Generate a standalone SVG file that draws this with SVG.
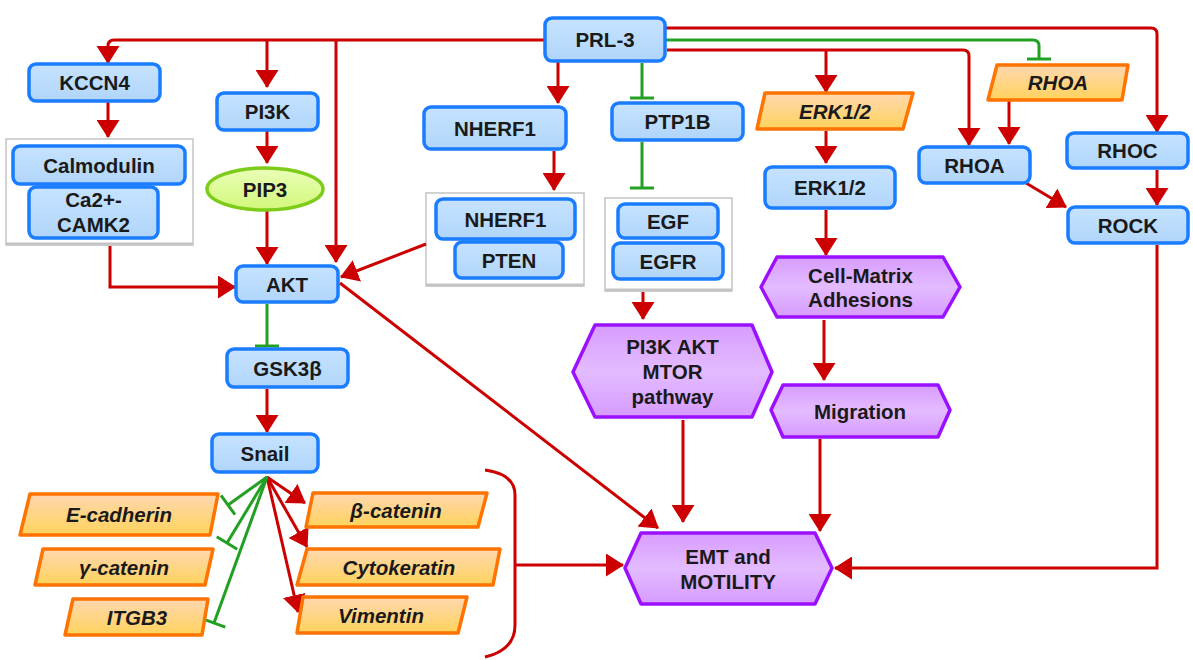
<svg xmlns="http://www.w3.org/2000/svg" width="1193" height="660" viewBox="0 0 1193 660">
<defs>
<linearGradient id="gb" x1="0" y1="0" x2="0" y2="1"><stop offset="0" stop-color="#c6e3ff"/><stop offset="1" stop-color="#b0d5fa"/></linearGradient>
<linearGradient id="go" x1="0" y1="0" x2="0" y2="1"><stop offset="0" stop-color="#ffd7b0"/><stop offset="1" stop-color="#ffd35c"/></linearGradient>
<linearGradient id="gp" x1="0" y1="0" x2="0" y2="1"><stop offset="0" stop-color="#d89cff"/><stop offset="0.5" stop-color="#e3bbff"/><stop offset="1" stop-color="#d69bff"/></linearGradient>
<linearGradient id="gg" x1="0" y1="0" x2="0" y2="1"><stop offset="0" stop-color="#eaffb8"/><stop offset="1" stop-color="#d2f77a"/></linearGradient>
<marker id="ah" markerUnits="userSpaceOnUse" viewBox="0 0 18 23" refX="17" refY="11.5" markerWidth="18" markerHeight="23" orient="auto"><path d="M0,0 L18,11.5 L0,23 z" fill="#cc0000"/></marker>
<marker id="bar" markerUnits="userSpaceOnUse" viewBox="-2 -1 4 26" refX="0" refY="12" markerWidth="4" markerHeight="26" orient="auto"><path d="M0,0 L0,24" stroke="#22a022" stroke-width="3"/></marker>
<style>
.b{fill:url(#gb);stroke:#1a7cff;stroke-width:3.5}
.o{fill:url(#go);stroke:#ff7300;stroke-width:3.5;stroke-linejoin:round}
.p{fill:url(#gp);stroke:#9b10ff;stroke-width:3.5;stroke-linejoin:round}
.c{fill:#fff;stroke:#c4c4c4;stroke-width:1.5}
.cs{stroke:#c4c4c4;stroke-width:3}
.t{font-family:"Liberation Sans",Arial,sans-serif;font-weight:bold;font-size:20.5px;fill:#1a1a1a;text-anchor:middle}
.i{font-style:italic}
.r{stroke:#cc0000;stroke-width:3;fill:none;marker-end:url(#ah)}
.rl{stroke:#cc0000;stroke-width:3;fill:none}
.g{stroke:#22a022;stroke-width:3;fill:none;marker-end:url(#bar)}
</style>
</defs>
<rect width="1193" height="660" fill="#fff"/>

<g id="containers">
<g id="calmodulin-complex"><rect class="c" x="6" y="139" width="187" height="106"/><line class="cs" x1="6" y1="244" x2="193" y2="244"/></g>
<g id="nherf1-pten-complex"><rect class="c" x="426" y="193" width="158" height="93"/><line class="cs" x1="426" y1="285" x2="584" y2="285"/></g>
<g id="egf-egfr-complex"><rect class="c" x="605" y="198" width="127" height="93"/><line class="cs" x1="605" y1="290" x2="732" y2="290"/></g>
</g>

<g id="connectors">
<path class="rl" d="M545,40 H114 Q108,40 108,46 V50"/>
<path class="r" d="M108,48 V63"/>
<path class="r" d="M267,40 V87"/>
<path class="r" d="M336,40 V262"/>
<path class="r" d="M665,28 H1151 Q1157,28 1157,34 V132"/>
<path class="g" d="M665,40 H1033 Q1039,40 1039,46 V59"/>
<path class="r" d="M667,50 H963 Q969,50 969,56 V145"/>
<path class="r" d="M826,50 V92"/>
<path class="r" d="M558,62 V103"/>
<path class="g" d="M642,63 V98"/>
<path class="r" d="M108,102 V137"/>
<path class="r" d="M267,131 V163"/>
<path class="r" d="M267,211 V264"/>
<path class="r" d="M110,246 V287 H235"/>
<path class="r" d="M426,244 L341,277"/>
<path class="g" d="M267,304 V346"/>
<path class="r" d="M267,389 V432"/>
<path class="r" d="M554,151 V190"/>
<path class="g" d="M642,142 V188"/>
<path class="r" d="M643,292 V319"/>
<path class="r" d="M826,131 V163"/>
<path class="r" d="M826,210 V255"/>
<path class="r" d="M824,320 V380"/>
<path class="r" d="M1009,101 V144"/>
<path class="r" d="M1157,170 V205"/>
<path class="r" d="M1026,183 L1066,207"/>
<path class="r" d="M340,283 L658,528"/>
<path class="r" d="M683,420 V522"/>
<path class="r" d="M820,439 V531"/>
<path class="r" d="M1157,245 V568 H835"/>
<path class="r" d="M267,477 L305,503"/>
<path class="r" d="M267,477 L307,547"/>
<path class="r" d="M267,477 L298,612"/>
<path class="g" d="M267,477 L228,505"/>
<path class="g" d="M267,477 L227,543"/>
<path class="g" d="M267,477 L214,623"/>
<path class="rl" d="M485,470 Q515,474 515,495 V625 Q515,650 485,657"/>
<path class="r" d="M515,565 H623"/>
</g>

<g id="n-prl3"><rect class="b" x="545" y="18" width="120" height="43" rx="7"/><text class="t" x="605" y="47">PRL-3</text></g>
<g id="n-kccn4"><rect class="b" x="29" y="64" width="131" height="37" rx="7"/><text class="t" x="94.5" y="90">KCCN4</text></g>
<g id="n-pi3k"><rect class="b" x="217" y="93" width="101" height="37" rx="7"/><text class="t" x="267.5" y="119">PI3K</text></g>
<g id="n-pip3"><ellipse cx="265" cy="189" rx="58" ry="21" fill="url(#gg)" stroke="#7dcc1a" stroke-width="3.5"/><text class="t" x="265" y="196.5">PIP3</text></g>
<g id="n-calmodulin"><rect class="b" x="13" y="146" width="172" height="38" rx="7"/><text class="t" x="99" y="172.5">Calmodulin</text></g>
<g id="n-camk2"><rect class="b" x="29" y="187" width="129" height="51" rx="7"/><text class="t" x="93.5" y="207">Ca2+-</text><text class="t" x="93.5" y="232">CAMK2</text></g>
<g id="n-akt"><rect class="b" x="236" y="266" width="102" height="36" rx="7"/><text class="t" x="287" y="291.5">AKT</text></g>
<g id="n-gsk3b"><rect class="b" x="227" y="349" width="121" height="38" rx="7"/><text class="t" x="287.5" y="375.5">GSK3β</text></g>
<g id="n-snail"><rect class="b" x="212" y="434" width="106" height="38" rx="7"/><text class="t" x="265" y="460.5">Snail</text></g>
<g id="n-nherf1"><rect class="b" x="424" y="107" width="142" height="42" rx="7"/><text class="t" x="495" y="135.5">NHERF1</text></g>
<g id="n-ptp1b"><rect class="b" x="612" y="103" width="131" height="37" rx="7"/><text class="t" x="677.5" y="129">PTP1B</text></g>
<g id="n-nherf1b"><rect class="b" x="436" y="199" width="139" height="40" rx="7"/><text class="t" x="505.5" y="226.5">NHERF1</text></g>
<g id="n-pten"><rect class="b" x="455" y="242" width="108" height="36" rx="7"/><text class="t" x="509" y="267.5">PTEN</text></g>
<g id="n-egf"><rect class="b" x="618" y="204" width="100" height="34" rx="7"/><text class="t" x="668" y="228.5">EGF</text></g>
<g id="n-egfr"><rect class="b" x="613" y="243" width="110" height="36" rx="7"/><text class="t" x="668" y="268.5">EGFR</text></g>
<g id="n-pi3kaktmtor"><polygon class="p" points="573,372 595,325 752,325 772,372 752,417 595,417"/><text class="t" x="672.5" y="354">PI3K AKT</text><text class="t" x="672.5" y="379">MTOR</text><text class="t" x="672.5" y="404">pathway</text></g>
<g id="n-erk-gene"><polygon class="o" points="765,93 913,93 903,129 757,129"/><text class="t i" x="835" y="118.5">ERK1/2</text></g>
<g id="n-erk"><rect class="b" x="765" y="167" width="130" height="41" rx="7"/><text class="t" x="830" y="195">ERK1/2</text></g>
<g id="n-cellmatrix"><polygon class="p" points="761,287 777,257 943,257 960,287 943,317 777,317"/><text class="t" x="860.5" y="283">Cell-Matrix</text><text class="t" x="860.5" y="307">Adhesions</text></g>
<g id="n-migration"><polygon class="p" points="771,410 783,385 938,385 950,410 938,437 783,437"/><text class="t" x="860" y="418.5">Migration</text></g>
<g id="n-rhoa-gene"><polygon class="o" points="997,65 1128,65 1122,100 988,100"/><text class="t i" x="1058" y="90">RHOA</text></g>
<g id="n-rhoa"><rect class="b" x="919" y="147" width="111" height="36" rx="7"/><text class="t" x="974.5" y="172.5">RHOA</text></g>
<g id="n-rhoc"><rect class="b" x="1067" y="133" width="121" height="35" rx="7"/><text class="t" x="1127.5" y="158">RHOC</text></g>
<g id="n-rock"><rect class="b" x="1068" y="207" width="120" height="36" rx="7"/><text class="t" x="1128" y="232.5">ROCK</text></g>
<g id="n-emt"><polygon class="p" points="625,568 641,533 815,533 832,568 815,604 641,604"/><text class="t" x="728" y="564">EMT and</text><text class="t" x="728" y="589">MOTILITY</text></g>
<g id="n-ecadherin"><polygon class="o" points="30,494 218,494 210,535 20,535"/><text class="t i" x="119" y="522">E-cadherin</text></g>
<g id="n-gcatenin"><polygon class="o" points="43,549 213,549 205,585 35,585"/><text class="t i" x="124" y="574.5">γ-catenin</text></g>
<g id="n-itgb3"><polygon class="o" points="73,599 208,599 202,635 65,635"/><text class="t i" x="137" y="624.5">ITGB3</text></g>
<g id="n-bcatenin"><polygon class="o" points="313,493 487,493 478,527 306,527"/><text class="t i" x="396" y="517.5">β-catenin</text></g>
<g id="n-cytokeratin"><polygon class="o" points="307,549 500,549 493,585 297,585"/><text class="t i" x="399" y="574.5">Cytokeratin</text></g>
<g id="n-vimentin"><polygon class="o" points="303,597 467,597 458,633 297,633"/><text class="t i" x="381" y="622.5">Vimentin</text></g>
</svg>
